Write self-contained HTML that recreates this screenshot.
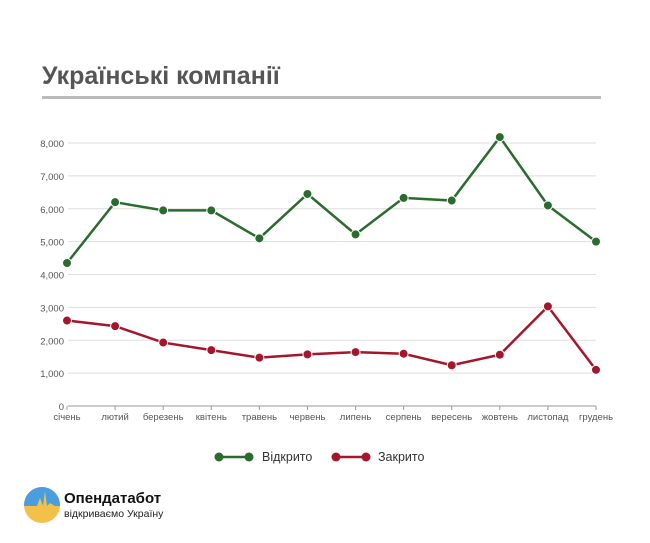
<!DOCTYPE html>
<html><head><meta charset="utf-8"><style>
body{margin:0;width:650px;height:538px;background:#fff;font-family:"Liberation Sans",sans-serif;overflow:hidden}
</style></head><body>
<svg width="650" height="538" xmlns="http://www.w3.org/2000/svg">
<text x="42" y="84" font-size="25" font-weight="bold" fill="#555">Українські компанії</text>
<rect x="42" y="96" width="559" height="3" fill="#bbb"/>
<g id="grid"></g><g id="xl"></g><g id="series"></g>
<g>
<g><line x1="219" y1="457" x2="249" y2="457" stroke="#2b6b2e" stroke-width="2.5"/><circle cx="219" cy="457" r="4.5" fill="#2b6b2e"/><circle cx="249" cy="457" r="4.5" fill="#2b6b2e"/><text x="262" y="461" font-size="12.5" fill="#333">Відкрито</text></g>
<g><line x1="336" y1="457" x2="366" y2="457" stroke="#a4162b" stroke-width="2.5"/><circle cx="336" cy="457" r="4.5" fill="#a4162b"/><circle cx="366" cy="457" r="4.5" fill="#a4162b"/><text x="378" y="461" font-size="12.5" fill="#333">Закрито</text></g>
</g>
<g>
<clipPath id="lc"><circle cx="42" cy="505" r="18"/></clipPath>
<g clip-path="url(#lc)"><rect x="24" y="487" width="36" height="36" fill="#f3c04a"/><path d="M24 487H60V506L55 506L50 503L47 506L45 491L43 506L40 498L37 506H24Z" fill="#4a9ee0"/></g>
<text x="64" y="503" font-size="15" font-weight="bold" fill="#111">Опендатабот</text>
<text x="64" y="517" font-size="10.5" fill="#222">відкриваємо Україну</text>
</g>
</svg>
<script>
const months=["січень","лютий","березень","квітень","травень","червень","липень","серпень","вересень","жовтень","листопад","грудень"];
const opened=[4350,6200,5950,5950,5100,6450,5220,6330,6250,8180,6100,5000];
const closed=[2600,2430,1930,1700,1470,1570,1640,1590,1240,1560,3030,1100];
const yTicks=[0,1000,2000,3000,4000,5000,6000,7000,8000];
const NS="http://www.w3.org/2000/svg";
const x0=67,x1=596,y0=406,yTop=143;
const xs=i=>x0+i*(x1-x0)/(months.length-1);
const ys=v=>y0-v*(y0-yTop)/8000;
function mk(t,a,p){const e=document.createElementNS(NS,t);for(const k in a)e.setAttribute(k,a[k]);p.appendChild(e);return e;}
const g=document.getElementById('grid');
yTicks.forEach(v=>{
 const l=mk('line',{x1:68,x2:596,y1:ys(v),y2:ys(v),stroke:v===0?'#999':'#ddd','stroke-width':1},g);
 
 
 const t=mk('text',{x:64,y:ys(v)+4,'font-size':9.5,fill:'#555','text-anchor':'end'},g);
 t.textContent=v.toLocaleString('en-US');
 
 
});
const xl=document.getElementById('xl');
months.forEach((m,i)=>{
 const tk=mk('line',{x1:xs(i),x2:xs(i),y1:406,y2:410,stroke:'#999'},xl);
 
 
 const t=mk('text',{x:xs(i),y:420,'font-size':9.5,fill:'#555','text-anchor':'middle'},xl);
 t.textContent=m;
 
 
});
const s=document.getElementById('series');
[[opened,'#2b6b2e','open'],[closed,'#a4162b','closed']].forEach(([d,c,n])=>{
 const p=mk('polyline',{points:d.map((v,i)=>xs(i)+','+ys(v)).join(' '),fill:'none',stroke:c,'stroke-width':2.5},s);
 
 
 d.forEach((v,i)=>{
  const ci=mk('circle',{cx:xs(i),cy:ys(v),r:4.5,fill:c,stroke:'#fff','stroke-width':1},s);
  
  
 });
});
</script>
</body></html>
